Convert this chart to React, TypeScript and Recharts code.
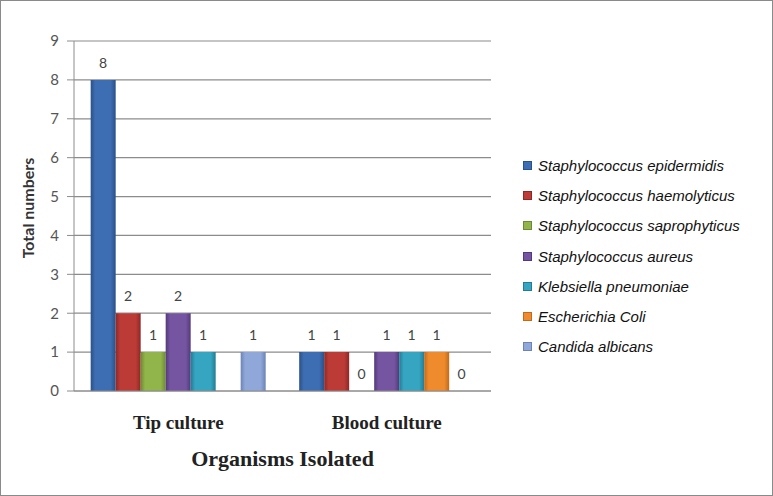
import { Bar, BarChart, CartesianGrid, LabelList, Legend, XAxis, YAxis } from "recharts";

const categories = ["Tip culture", "Blood culture"];
const organisms = [
  "Staphylococcus epidermidis",
  "Staphylococcus haemolyticus",
  "Staphylococcus saprophyticus",
  "Staphylococcus aureus",
  "Klebsiella pneumoniae",
  "Escherichia Coli",
  "Candida albicans",
];
// null = not reported (no bar, no label)
const tipCulture = [8, 2, 1, 2, 1, null, 1];
const bloodCulture = [1, 1, 0, 1, 1, 1, 0];
const yTicks = [0, 1, 2, 3, 4, 5, 6, 7, 8, 9];

const colors = ["#3d6db2", "#bc3b37", "#92b54b", "#7555a1", "#35a5c2", "#ef8b2d", "#8fa8d9"];
const edges = ["#2a5189", "#8e2826", "#6c8a33", "#54397a", "#227c93", "#c06a1a", "#6a84b5"];

const seriesByCategory = [tipCulture, bloodCulture];
const data = categories.map((category, ci) => {
  const row: Record<string, any> = { category };
  organisms.forEach((_, i) => {
    row[`s${i}`] = seriesByCategory[ci][i];
  });
  return row;
});

// zero counts still need a "0" label, so give them a hairline bar
const zeroSize = (value: any) => (value === 0 ? 0.01 : 0);

function CategoryTick({ x, y, payload }: any) {
  return (
    <text
      x={x}
      y={y + 30}
      textAnchor="middle"
      fontFamily="Liberation Serif"
      fontWeight="bold"
      fontSize={19}
      fill="#222"
    >
      {payload.value}
    </text>
  );
}

function LegendList() {
  return (
    <div style={{ fontFamily: "Liberation Sans", fontStyle: "italic", fontSize: 15, color: "#111" }}>
      {organisms.map((name, i) => (
        <div key={name} style={{ display: "flex", alignItems: "center", height: 30.3 }}>
          <span
            style={{
              display: "inline-block",
              width: 9,
              height: 9,
              background: colors[i],
              border: `1px solid ${edges[i]}`,
              boxSizing: "border-box",
              marginRight: 6,
            }}
          />
          {name}
        </div>
      ))}
    </div>
  );
}

export default function App() {
  return (
    <div
      style={{
        position: "fixed",
        left: 0,
        top: 0,
        width: 773,
        height: 496,
        background: "#fff",
        border: "1px solid #8a8a8a",
        boxSizing: "border-box",
      }}
    >
      <BarChart
        width={771}
        height={494}
        data={data}
        margin={{ top: 40, right: 281, bottom: 74, left: 0 }}
        barCategoryGap="8%"
        barGap={0}
      >
        <defs>
          {colors.map((c, i) => (
            <linearGradient key={i} id={`bar${i}`} x1="0" y1="0" x2="1" y2="0">
              <stop offset="0%" stopColor={edges[i]} />
              <stop offset="18%" stopColor={c} />
              <stop offset="80%" stopColor={c} />
              <stop offset="100%" stopColor={edges[i]} />
            </linearGradient>
          ))}
        </defs>
        <CartesianGrid vertical={false} stroke="#8c8c8c" strokeWidth={1.2} />
        <XAxis
          dataKey="category"
          height={30}
          axisLine={{ stroke: "#8c8c8c" }}
          tickLine={false}
          tick={<CategoryTick />}
          label={{
            value: "Organisms Isolated",
            position: "bottom",
            offset: 29,
            fontFamily: "Liberation Serif",
            fontWeight: "bold",
            fontSize: 22,
            fill: "#222",
          }}
        />
        <YAxis
          width={73}
          domain={[0, 9]}
          ticks={yTicks}
          interval={0}
          tickSize={7}
          tickMargin={8}
          axisLine={{ stroke: "#8c8c8c" }}
          tickLine={{ stroke: "#8c8c8c" }}
          tick={{ fontFamily: "Lato", fontSize: 15, fill: "#555" }}
          label={{
            value: "Total numbers",
            angle: -90,
            position: "center",
            dx: -9,
            dy: -8,
            fontFamily: "Lato",
            fontWeight: "bold",
            fontSize: 16,
            fill: "#333",
          }}
        />
        <Legend
          layout="vertical"
          align="center"
          verticalAlign="middle"
          content={<LegendList />}
          wrapperStyle={{ position: "absolute", left: 522, top: 149, width: 245, height: 215 }}
        />
        {organisms.map((name, i) => (
          <Bar
            key={name}
            dataKey={`s${i}`}
            name={name}
            fill={`url(#bar${i})`}
            minPointSize={zeroSize}
            isAnimationActive={false}
          >
            <LabelList
              dataKey={`s${i}`}
              position="top"
              offset={12}
              fontFamily="Lato"
              fontSize={14}
              fill="#444"
            />
          </Bar>
        ))}
      </BarChart>
    </div>
  );
}
